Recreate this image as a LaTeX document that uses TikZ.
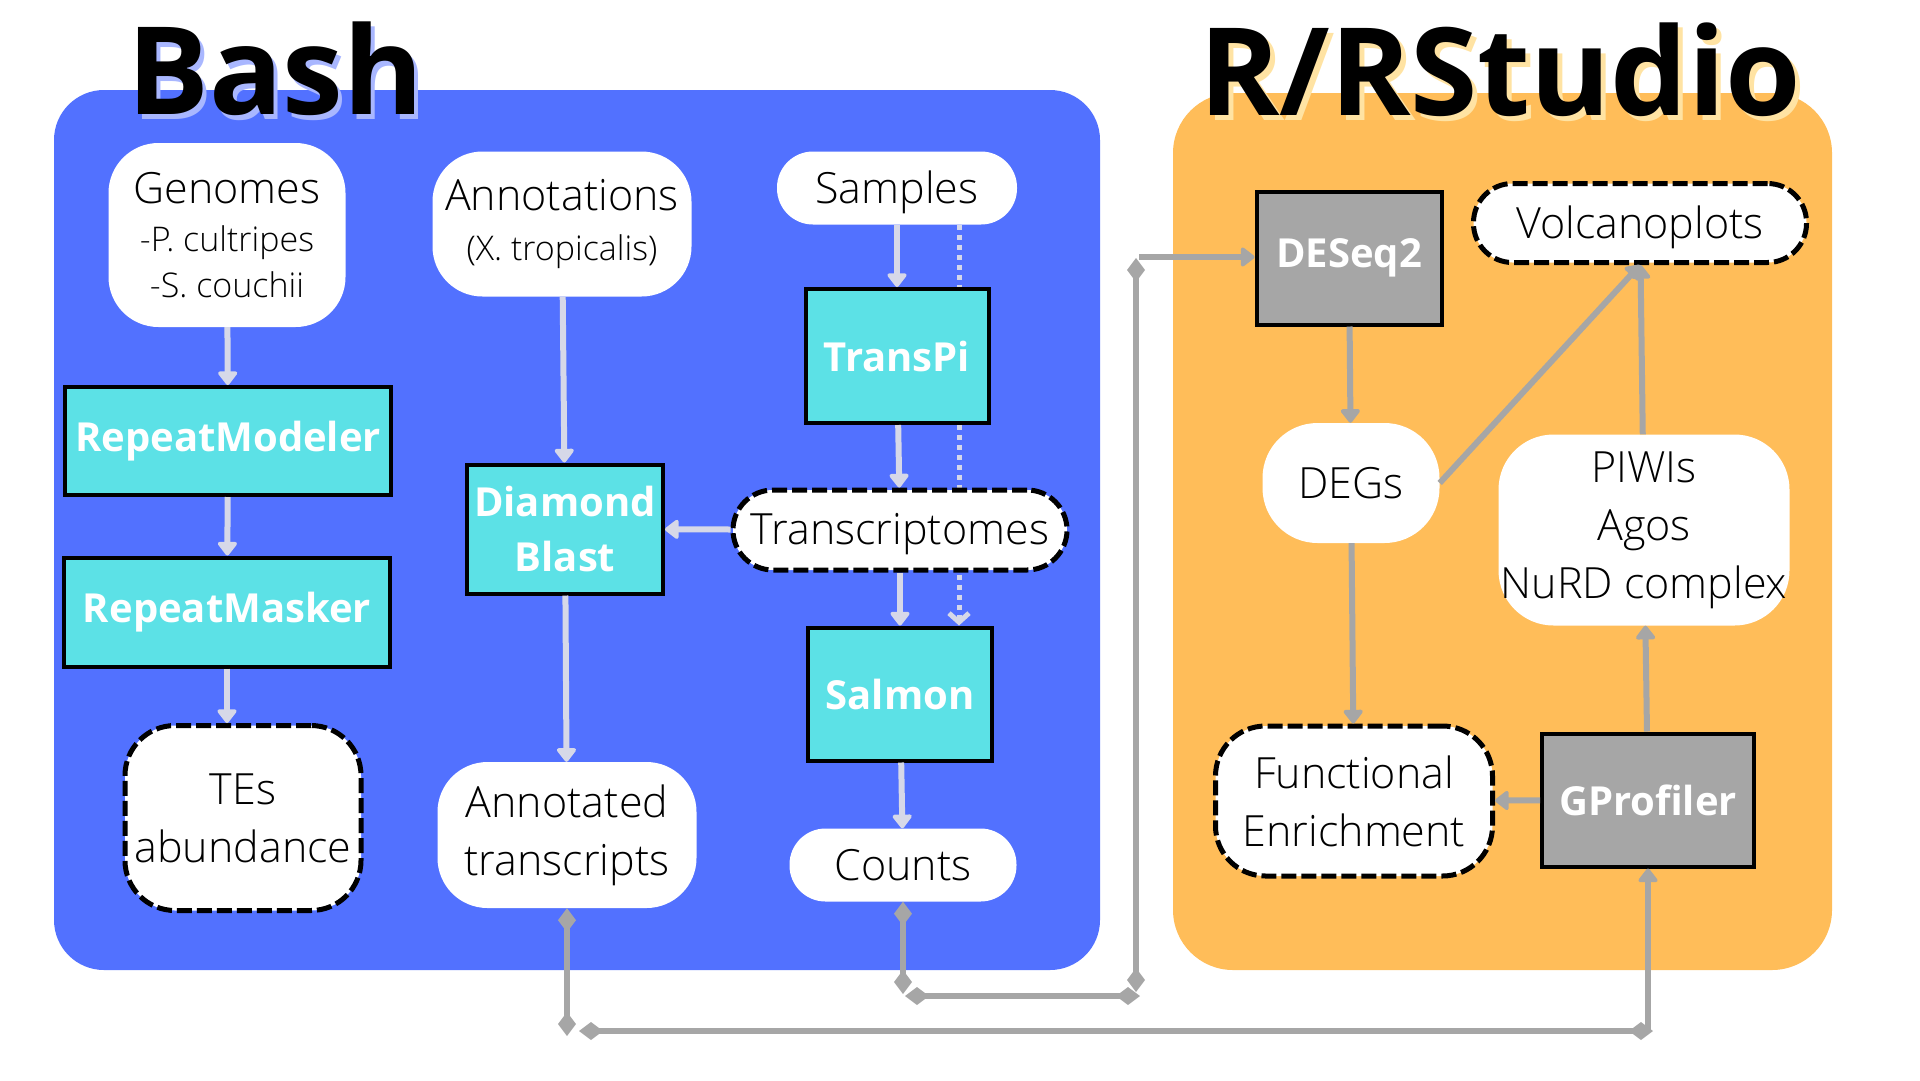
\documentclass[tikz,border=0pt]{standalone}
\usepackage{fontspec}
\setmainfont{Open Sans}
\IfFontExistsTF{Open Sans Light}{\newfontfamily\thinfont{Open Sans Light}}{\newfontfamily\thinfont{Open Sans}}
\IfFontExistsTF{Open Sans ExtraBold}{\newfontfamily\heavyfont{Open Sans ExtraBold}}{\let\heavyfont\bfseries}
\usepackage{tikz}
\usetikzlibrary{arrows.meta,backgrounds}

\definecolor{bashblue}{HTML}{5271FF}
\definecolor{rorange}{HTML}{FFBD59}
\definecolor{toolcyan}{HTML}{5CE1E6}
\definecolor{toolgray}{HTML}{A6A6A6}
\definecolor{flowlight}{HTML}{D6D8E8}
\definecolor{linkgray}{HTML}{A6A6A6}
\definecolor{bashshade}{HTML}{A9B7FF}
\definecolor{rshade}{HTML}{FFE3A3}

\begin{document}
\begin{tikzpicture}[x=1pt,y=-1pt,
  title/.style={anchor=base west,inner sep=0pt,font=\heavyfont\fontsize{122}{122}\selectfont},
  data/.style={fill=white,rounded corners=50pt,align=center,inner sep=0pt,font=\thinfont\fontsize{43}{58}\selectfont},
  pill/.style={data,text depth=2pt},
  result/.style={data,draw=black,line width=5pt,dash pattern=on 15pt off 5pt},
  tool/.style={fill=toolcyan,draw=black,line width=4pt,align=center,inner sep=0pt,text=white,font=\bfseries\fontsize{40}{55}\selectfont},
  rtool/.style={tool,fill=toolgray},
  flow/.style={draw=flowlight,line width=6pt,-{Triangle[length=15pt,width=22pt,round]}},
  rflow/.style={flow,draw=linkgray,line width=6pt},
  link/.style={draw=linkgray,line width=6pt,{Diamond[length=24pt,width=18pt]}-{Diamond[length=24pt,width=18pt]}}]
\useasboundingbox (0,0) rectangle (1920,1080);

% titles
\node[title,text=bashshade] (bashback) at (131,119) {Bash};
\node[title] (bash) at (127,114) {Bash};
\node[title,text=rshade] (rback) at (1204,120) {R/RStudio};
\node[title] (rstudio) at (1199,115) {R/RStudio};

% Bash side
\node[data,minimum width=237pt,minimum height=184pt] (genomes) at (227,235)
  {Genomes\\[-10pt]{\fontsize{34}{46}\selectfont -P. cultripes}\\[-12pt]{\fontsize{34}{46}\selectfont -S. couchii}};
\node[data,minimum width=259pt,minimum height=145pt] (annot) at (562,224)
  {Annotations\\[-8pt]{\fontsize{34}{46}\selectfont (X. tropicalis)}};
\node[pill,rounded corners=36pt,minimum width=240pt,minimum height=73pt] (samples) at (897,188) {Samples};
\node[tool,minimum width=183pt,minimum height=134pt] (transpi) at (897,356) {TransPi};
\node[tool,minimum width=326pt,minimum height=108pt] (repmod) at (228,441) {RepeatModeler};
\node[tool,minimum width=326pt,minimum height=109pt] (repmask) at (227,612) {RepeatMasker};
\node[result,minimum width=236pt,minimum height=185pt] (tes) at (243,818) {TEs\\abundance};
\node[tool,minimum width=196pt,minimum height=129pt] (diamond) at (565,529) {Diamond\\Blast};
\node[result,pill,rounded corners=40pt,minimum width=334pt,minimum height=80pt] (transcr) at (900,530) {Transcriptomes};
\node[tool,minimum width=184pt,minimum height=133pt] (salmon) at (900,694) {Salmon};
\node[data,minimum width=259pt,minimum height=146pt] (annotated) at (567,835) {Annotated\\transcripts};
\node[data,rounded corners=36pt,minimum width=227pt,minimum height=73pt] (counts) at (903,865) {Counts};

% R side
\node[rtool,minimum width=185pt,minimum height=133pt] (deseq) at (1349,258) {DESeq2};
\node[result,pill,rounded corners=39pt,minimum width=333pt,minimum height=79pt] (volcano) at (1640,223) {Volcanoplots};
\node[data,rounded corners=55pt,minimum width=177pt,minimum height=120pt] (degs) at (1351,483) {DEGs};
\node[data,rounded corners=55pt,minimum width=291pt,minimum height=191pt] (piwis) at (1644,530) {PIWIs\\Agos\\NuRD complex};
\node[result,minimum width=277pt,minimum height=150pt] (func) at (1354,801) {Functional\\Enrichment};
\node[rtool,minimum width=212pt,minimum height=133pt] (gprof) at (1648,800) {GProfiler};

% arrows inside the panels
\draw[flow] (genomes) -- (repmod);
\draw[flow] (repmod) -- (repmask);
\draw[flow] (repmask.south) -- (repmask.south |- tes.north);
\draw[flow] (annot) -- (diamond);
\draw[flow] (diamond) -- (annotated);
\draw[flow] (samples) -- (transpi);
\draw[flow] (transpi) -- (transcr);
\draw[flow] (transcr) -- (diamond);
\draw[flow] (transcr) -- (salmon);
\draw[flow] (salmon) -- (counts);
\draw[rflow] (deseq) -- (degs);
\draw[rflow] (degs.east) -- (volcano.south);
\draw[rflow] (piwis) -- (volcano);
\draw[rflow] (degs) -- (func);
\draw[rflow] (gprof) -- (func);
\draw[rflow] (gprof) -- (piwis);

% links between the panels
\coordinate (annotdrop) at (567,1036);
\coordinate (lowleft) at (579,1031);
\coordinate (lowright) at (1653,1031);
\coordinate (countsdrop) at (903,994);
\coordinate (midleft) at (905,996);
\coordinate (midright) at (1140,996);
\coordinate (riserlow) at (1136,992);
\coordinate (risertop) at (1136,258);
\coordinate (deseqin) at (1139,257);
\draw[link] (annotated.south) -- (annotdrop);
\draw[link] (lowleft) -- (lowright);
\draw[rflow] (lowright -| gprof.south) -- (gprof.south);
\draw[link] (counts.south) -- (countsdrop);
\draw[link] (midleft) -- (midright);
\draw[link] (riserlow) -- (risertop);
\draw[rflow] (deseqin) -- (deseqin -| deseq.west);

\begin{pgfonlayer}{background}
\fill[bashblue,rounded corners=50pt] (54,90) rectangle (1100,970);
\fill[rorange,rounded corners=60pt] (1173,93) rectangle (1832,970);
\draw[draw=flowlight,line width=5pt,dash pattern=on 5pt off 5pt,-{Straight Barb[length=9pt,width=20pt]}]
  ([xshift=62pt]samples.south) -- ([xshift=59pt]salmon.north);
\end{pgfonlayer}
\end{tikzpicture}
\end{document}
